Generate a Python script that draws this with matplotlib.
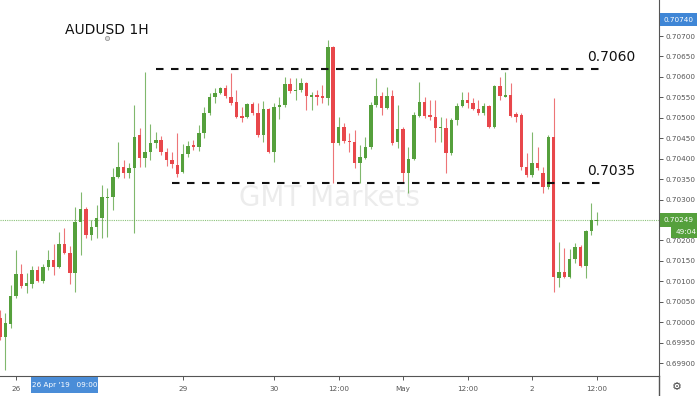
import matplotlib
matplotlib.use('Agg')
import matplotlib.pyplot as plt
from matplotlib.patches import Rectangle
from matplotlib.lines import Line2D
import numpy as np

# AUDUSD 1H candles, bar 0 = 26 Apr 2019 00:00
first_bar = -3
opens = [0.70010, 0.69964, 0.69995, 0.70064, 0.70118, 0.70088, 0.70093, 0.70128, 0.70101, 0.70135,
         0.70152, 0.70135, 0.70191, 0.70169, 0.70120, 0.70245, 0.70277, 0.70213, 0.70233, 0.70255,
         0.70304, 0.70306, 0.70355, 0.70380, 0.70365, 0.70377, 0.70458, 0.70402, 0.70416, 0.70438,
         0.70446, 0.70416, 0.70397, 0.70384, 0.70367, 0.70411, 0.70433, 0.70428, 0.70463, 0.70512,
         0.70551, 0.70561, 0.70573, 0.70551, 0.70539, 0.70504, 0.70502, 0.70534, 0.70512, 0.70458,
         0.70521, 0.70416, 0.70526, 0.70531, 0.70583, 0.70565, 0.70568, 0.70585, 0.70552, 0.70556,
         0.70553, 0.70548, 0.70673, 0.70438, 0.70477, 0.70443, 0.70441, 0.70389, 0.70402, 0.70428,
         0.70531, 0.70553, 0.70524, 0.70553, 0.70441, 0.70472, 0.70365, 0.70399, 0.70504, 0.70539,
         0.70507, 0.70502, 0.70474, 0.70475, 0.70414, 0.70494, 0.70529, 0.70543, 0.70536, 0.70521,
         0.70512, 0.70529, 0.70477, 0.70578, 0.70552, 0.70556, 0.70509, 0.70507, 0.70380, 0.70360,
         0.70389, 0.70365, 0.70331, 0.70453, 0.70108, 0.70123, 0.70110, 0.70154, 0.70184, 0.70137,
         0.70223, 0.70247]
highs = [0.70030, 0.70022, 0.70091, 0.70176, 0.70142, 0.70120, 0.70137, 0.70137, 0.70142, 0.70176,
         0.70191, 0.70221, 0.70230, 0.70186, 0.70282, 0.70318, 0.70282, 0.70250, 0.70287, 0.70336,
         0.70328, 0.70377, 0.70441, 0.70397, 0.70389, 0.70531, 0.70475, 0.70612, 0.70485, 0.70465,
         0.70455, 0.70426, 0.70416, 0.70463, 0.70436, 0.70443, 0.70446, 0.70482, 0.70526, 0.70561,
         0.70573, 0.70575, 0.70580, 0.70610, 0.70568, 0.70526, 0.70536, 0.70539, 0.70536, 0.70541,
         0.70524, 0.70536, 0.70551, 0.70600, 0.70597, 0.70597, 0.70597, 0.70587, 0.70563, 0.70568,
         0.70580, 0.70690, 0.70675, 0.70502, 0.70487, 0.70463, 0.70470, 0.70433, 0.70453, 0.70539,
         0.70597, 0.70563, 0.70575, 0.70568, 0.70531, 0.70477, 0.70428, 0.70514, 0.70587, 0.70551,
         0.70543, 0.70543, 0.70502, 0.70499, 0.70499, 0.70536, 0.70563, 0.70563, 0.70548, 0.70543,
         0.70536, 0.70531, 0.70580, 0.70600, 0.70612, 0.70585, 0.70514, 0.70512, 0.70414, 0.70465,
         0.70428, 0.70380, 0.70458, 0.70548, 0.70196, 0.70181, 0.70179, 0.70194, 0.70189, 0.70225,
         0.70291, 0.70269]
lows = [0.69956, 0.69883, 0.69986, 0.70059, 0.70083, 0.70071, 0.70083, 0.70098, 0.70096, 0.70128,
        0.70115, 0.70132, 0.70167, 0.70093, 0.70074, 0.70164, 0.70206, 0.70201, 0.70206, 0.70206,
        0.70208, 0.70274, 0.70353, 0.70353, 0.70353, 0.70218, 0.70380, 0.70380, 0.70397, 0.70426,
        0.70409, 0.70382, 0.70377, 0.70355, 0.70365, 0.70404, 0.70421, 0.70419, 0.70450, 0.70507,
        0.70536, 0.70558, 0.70548, 0.70531, 0.70499, 0.70490, 0.70499, 0.70507, 0.70453, 0.70441,
        0.70414, 0.70392, 0.70497, 0.70526, 0.70561, 0.70543, 0.70563, 0.70519, 0.70519, 0.70531,
        0.70536, 0.70531, 0.70340, 0.70433, 0.70438, 0.70416, 0.70377, 0.70340, 0.70399, 0.70424,
        0.70526, 0.70507, 0.70521, 0.70433, 0.70426, 0.70343, 0.70316, 0.70397, 0.70502, 0.70499,
        0.70494, 0.70441, 0.70441, 0.70365, 0.70409, 0.70482, 0.70526, 0.70524, 0.70519, 0.70507,
        0.70507, 0.70475, 0.70475, 0.70543, 0.70551, 0.70502, 0.70490, 0.70372, 0.70355, 0.70355,
        0.70372, 0.70316, 0.70326, 0.70074, 0.70086, 0.70108, 0.70108, 0.70145, 0.70135, 0.70108,
        0.70213, 0.70238]
closes = [0.69964, 0.69998, 0.70064, 0.70118, 0.70088, 0.70096, 0.70128, 0.70101, 0.70135, 0.70152,
          0.70135, 0.70191, 0.70169, 0.70120, 0.70245, 0.70277, 0.70213, 0.70233, 0.70255, 0.70306,
          0.70306, 0.70355, 0.70380, 0.70365, 0.70377, 0.70453, 0.70402, 0.70416, 0.70438, 0.70446,
          0.70416, 0.70397, 0.70387, 0.70362, 0.70411, 0.70431, 0.70428, 0.70463, 0.70512, 0.70551,
          0.70561, 0.70573, 0.70553, 0.70536, 0.70502, 0.70499, 0.70534, 0.70512, 0.70458, 0.70521,
          0.70416, 0.70526, 0.70531, 0.70583, 0.70565, 0.70568, 0.70585, 0.70553, 0.70553, 0.70551,
          0.70548, 0.70673, 0.70438, 0.70477, 0.70443, 0.70441, 0.70389, 0.70404, 0.70428, 0.70531,
          0.70553, 0.70524, 0.70553, 0.70438, 0.70472, 0.70365, 0.70399, 0.70507, 0.70539, 0.70504,
          0.70502, 0.70475, 0.70475, 0.70414, 0.70494, 0.70529, 0.70543, 0.70536, 0.70521, 0.70512,
          0.70529, 0.70477, 0.70578, 0.70553, 0.70553, 0.70504, 0.70502, 0.70380, 0.70360, 0.70389,
          0.70377, 0.70331, 0.70453, 0.70110, 0.70123, 0.70110, 0.70154, 0.70184, 0.70137, 0.70223,
          0.70250, 0.70249]

tick_pos = [0, 31, 48, 60, 72, 84, 96, 108]
tick_labels = ['26', '29', '30', '12:00', 'May', '12:00', '2', '12:00']
last_price = 0.70249
high_marker = 0.70740
levels = [0.70619, 0.70340]
level_labels = ['0.7060', '0.7035']
level_start = [26, 29]

W, H = 697, 396
green = '#55a03c'
red = '#e8474b'

fig = plt.figure(figsize=(W / 100, H / 100), dpi=100)
ax = fig.add_axes([0, 20 / H, 659 / W, 376 / H])
ax.set_xlim(-2.98, 119.6)
ax.set_ylim(0.698682, 0.707881)

bars = np.arange(first_bar, first_bar + len(opens))
o = np.array(opens)
c = np.array(closes)
up = c >= o
cols = np.where(up, green, red)
ax.vlines(bars, lows, highs, colors=cols, linewidth=0.8, alpha=0.75, zorder=2)
body = np.maximum(np.abs(c - o), 0.000025)
ax.bar(bars, body, bottom=np.minimum(o, c), width=0.64, color=cols, linewidth=0, zorder=3)

# current price line
ax.axhline(last_price, color='#8cc27a', linewidth=0.8, linestyle=(0, (1, 1)), zorder=1)

# support / resistance
for lvl, lab, x0 in zip(levels, level_labels, level_start):
    ax.hlines(lvl, x0, 109.6, colors='#111111', linewidth=1.5, linestyles=(0, (3.6, 3.6)), zorder=4)
    ax.text(106.2, lvl + 0.00021, lab, fontsize=10, color='#111111', va='baseline', ha='left')

ax.text(0.5, 0.5 - (198 - 188) / 376, 'GMT Markets', transform=ax.transAxes, fontsize=20,
        color='#ececec', ha='center', va='center', zorder=0)

# axes styling
for s in ['top', 'left']:
    ax.spines[s].set_visible(False)
ax.spines['right'].set_color('#555555')
ax.spines['bottom'].set_color('#555555')
ax.yaxis.tick_right()
yt = np.arange(0.699, 0.70701, 0.0005)
ax.set_yticks(yt)
# the 0.70250 label sits under the last-price flag
ax.set_yticklabels(['' if abs(v - 0.7025) < 1e-6 else '%.5f' % v for v in yt])
ax.tick_params(axis='y', length=3, width=0.7, color='#555555', labelsize=5.2, labelcolor='#555555', pad=2)
ax.set_xticks(tick_pos)
ax.set_xticklabels(tick_labels)
ax.tick_params(axis='x', length=3, width=0.7, color='#555555', labelsize=5.2, labelcolor='#555555', pad=4)


def fx(x):
    return x / W


def fy(y):
    return 1 - y / H


def px_box(x0, y0, x1, y1, color):
    fig.add_artist(Rectangle((fx(x0), fy(y1)), fx(x1) - fx(x0), fy(y0) - fy(y1),
                             transform=fig.transFigure, facecolor=color, edgecolor='none', zorder=5))


fig.add_artist(Line2D([fx(659), fx(659)], [0, fy(376)], color='#555555', linewidth=1, transform=fig.transFigure))

# price flags
px_box(660, 13, 697, 26, '#3f86d6')
fig.text(fx(664), fy(19.5), '%.5f' % high_marker, fontsize=5.2, color='white', va='center', zorder=6)
px_box(660, 213, 697, 227, green)
fig.text(fx(664), fy(220), '%.5f' % last_price, fontsize=5.2, color='white', va='center', zorder=6)
px_box(671, 227, 697, 238, green)
fig.text(fx(676), fy(232.5), '49:04', fontsize=5.2, color='white', va='center', zorder=6)

# crosshair date flag
px_box(31, 377, 98, 393, '#4a8dd8')
fig.text(fx(64.5), fy(385), "26 Apr '19   09:00", fontsize=5.2, color='white', va='center', ha='center', zorder=6)

fig.text(fx(677), fy(387), '\u2699', fontsize=8, color='#444444', va='center', ha='center')

# title
fig.text(fx(65), fy(34.3), 'AUDUSD 1H', fontsize=10, color='#111111', va='baseline')
fig.add_artist(Line2D([fx(107)], [fy(38)], marker='o', markersize=3, markerfacecolor='#dddddd',
                      markeredgecolor='#999999', markeredgewidth=0.6, transform=fig.transFigure))

fig.savefig('out.png', dpi=100)
